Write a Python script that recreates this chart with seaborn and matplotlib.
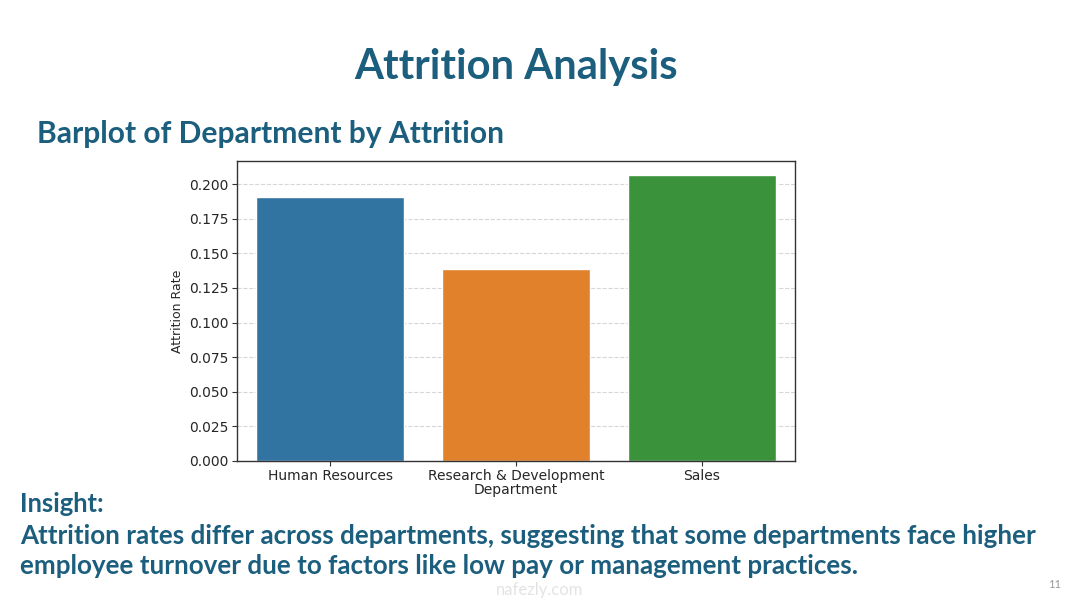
import matplotlib
matplotlib.use("Agg")
import matplotlib.pyplot as plt
import seaborn as sns
import pandas as pd

departments = ["Human Resources", "Research & Development", "Sales"]
attrition_rate = [0.1905, 0.1384, 0.2063]
yticks = [0.000, 0.025, 0.050, 0.075, 0.100, 0.125, 0.150, 0.175, 0.200]

title = "Attrition Analysis"
subtitle = "Barplot of Department by Attrition"
insight_head = "Insight:"
insight_l1 = "Attrition rates differ across departments, suggesting that some departments face higher"
insight_l2 = "employee turnover due to factors like low pay or management practices."
page_no = "11"

sns.set_style("white")
plt.rcParams['font.family'] = ['DejaVu Sans']

W, H = 1080, 603
fig = plt.figure(figsize=(W / 100, H / 100), dpi=100)
fig.patch.set_facecolor("white")

df = pd.DataFrame({"Department": departments, "Attrition Rate": attrition_rate})
ax = fig.add_axes([237 / W, 1 - 461 / H, (795 - 237) / W, (461 - 161) / H])
sns.barplot(data=df, x="Department", y="Attrition Rate", hue="Department",
            palette=["#1f77b4", "#ff7f0e", "#2ca02c"], legend=False, ax=ax, zorder=2)
ax.set_yticks(yticks)
ax.set_yticklabels([f"{v:.3f}" for v in yticks])
ax.grid(axis="y", linestyle="--", color="#cccccc", linewidth=0.8, alpha=0.8, zorder=0)
ax.set_axisbelow(True)
for s in ax.spines.values():
    s.set_color("#333333")
    s.set_linewidth(1.0)
ax.tick_params(axis="both", labelsize=10, length=3.5, pad=2.5, color="#333333", left=True, bottom=True)
ax.set_xlabel("Department", fontsize=10, labelpad=0)
ax.set_ylabel("Attrition Rate", fontsize=9, labelpad=4)

teal = "#1b5e7d"
renderer = fig.canvas.get_renderer()

def fit_text(x, y, s, target_w, size0, ha="left", **kw):
    t = fig.text(x / W, 1 - y / H, s, fontsize=size0, ha=ha, va="center", **kw)
    w = t.get_window_extent(renderer).width
    t.set_fontsize(size0 * target_w / w)
    return t

fam = ["Lato", "DejaVu Sans"]
fit_text(516, 67, title, 323, 26, ha="center", color=teal, fontweight="bold", family=fam)
fit_text(37, 134, subtitle, 468, 18, color=teal, fontweight="bold", family=fam)
fit_text(20, 504, insight_head, 84, 16, color=teal, fontweight="bold", family=fam)
fit_text(20, 536, insight_l1, 1018, 16, color=teal, fontweight="bold", family=fam)
fit_text(20, 566, insight_l2, 840, 16, color=teal, fontweight="bold", family=fam)
fig.text(1055 / W, 1 - 585 / H, page_no, fontsize=8, color="#999999", ha="center", va="center", family=fam)
fig.text(540 / W, 1 - 590 / H, "nafezly.com", fontsize=12, color="#dddddd", ha="center", va="center", family=fam, alpha=0.8)

fig.savefig("out.png", dpi=100, facecolor="white")
